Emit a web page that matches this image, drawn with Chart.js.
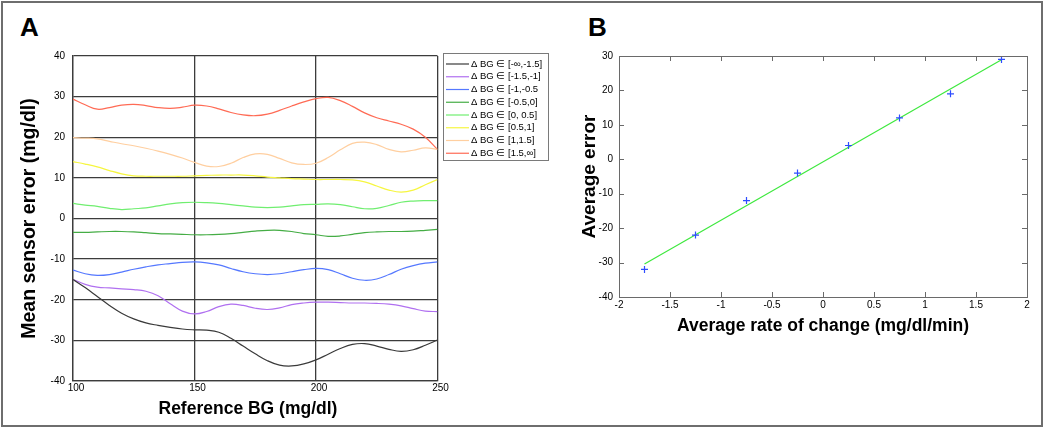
<!DOCTYPE html>
<html><head><meta charset="utf-8">
<script src="https://cdn.jsdelivr.net/npm/chart.js@4/dist/chart.umd.min.js"></script>
<style>
html,body{margin:0;padding:0;background:#fff;}
body{width:1050px;height:431px;position:relative;overflow:hidden;font-family:"Liberation Sans",Arial,sans-serif;}
#frame{position:absolute;left:1px;top:1px;width:1038px;height:422px;border:2px solid #6e6e6e;}
.panel{position:absolute;font-weight:bold;font-size:26px;line-height:26px;color:#000;}
#cA{position:absolute;left:0;top:0;}
#cB{position:absolute;left:560px;top:0;}
</style></head>
<body>
<div id="frame"></div>
<div class="panel" style="left:20px;top:14px;">A</div>
<div class="panel" style="left:588px;top:14px;">B</div>
<canvas id="cA" width="560" height="431"></canvas>
<canvas id="cB" width="490" height="431"></canvas>
<script>
// ---------- Panel A data ----------
const refBG = [100,105,110,115,120,125,130,135,140,145,150,155,160,165,170,175,180,185,190,195,200,205,210,215,220,225,230,235,240,245,250];
const seriesLabels = ['\u0394 BG \u2208 [-\u221e,-1.5]','\u0394 BG \u2208 [-1.5,-1]','\u0394 BG \u2208 [-1,-0.5','\u0394 BG \u2208 [-0.5,0]','\u0394 BG \u2208 [0, 0.5]','\u0394 BG \u2208 [0.5,1]','\u0394 BG \u2208 [1,1.5]','\u0394 BG \u2208 [1.5,\u221e]'];
const errNegInf = [-15.0,-17.0,-19.2,-21.4,-23.3,-24.7,-25.7,-26.3,-26.8,-27.2,-27.4,-27.5,-28.0,-29.5,-31.4,-33.3,-35.0,-36.1,-36.3,-35.8,-34.8,-33.4,-32.0,-31.0,-30.8,-31.4,-32.2,-32.7,-32.3,-31.2,-29.9];
const errNeg15 = [-15.0,-16.2,-16.9,-17.1,-17.3,-17.5,-17.9,-19.0,-21.0,-22.8,-23.5,-22.9,-21.7,-21.1,-21.4,-22.1,-22.4,-22.0,-21.2,-20.8,-20.6,-20.6,-20.7,-20.8,-20.8,-20.9,-21.1,-21.5,-22.2,-22.8,-22.9];
const errNeg1 = [-12.7,-13.6,-14.0,-13.8,-13.2,-12.5,-11.9,-11.4,-11.1,-10.8,-10.7,-10.9,-11.4,-12.3,-13.1,-13.6,-13.8,-13.6,-13.1,-12.6,-12.3,-12.6,-13.6,-14.7,-15.2,-14.9,-13.8,-12.5,-11.6,-11.0,-10.7];
const errNeg05 = [-3.4,-3.4,-3.3,-3.2,-3.2,-3.3,-3.5,-3.7,-3.8,-3.9,-4.0,-4.0,-3.9,-3.7,-3.4,-3.1,-2.9,-2.9,-3.2,-3.7,-4.0,-4.4,-4.3,-3.9,-3.5,-3.3,-3.2,-3.2,-3.1,-2.9,-2.7];
const errPos0 = [3.7,3.3,3.0,2.5,2.2,2.4,2.6,3.1,3.6,3.9,4.0,3.9,3.7,3.4,3.1,2.8,2.7,2.8,3.1,3.4,3.5,3.6,3.4,2.9,2.4,2.5,3.2,4.0,4.3,4.4,4.4];
const errPos05 = [14.0,13.4,12.7,11.8,11.0,10.5,10.4,10.4,10.4,10.4,10.5,10.6,10.7,10.7,10.7,10.5,10.2,10.0,9.8,9.7,9.6,9.6,9.6,9.5,9.0,8.0,7.0,6.5,7.0,8.3,9.6];
const errPos1 = [19.9,19.8,19.6,19.0,18.4,17.9,17.3,16.6,15.8,14.9,13.8,12.9,12.8,13.6,15.0,15.9,15.8,14.8,13.7,13.3,13.6,15.0,16.9,18.5,18.8,18.2,17.0,16.4,16.8,17.4,17.0];
const errPos15 = [29.4,28.0,26.9,27.3,27.9,28.1,27.8,27.3,27.1,27.4,27.9,27.7,27.0,26.1,25.5,25.3,25.7,26.6,27.7,28.7,29.5,29.8,29.0,27.6,26.0,24.8,24.0,23.2,22.0,20.0,17.0];
const seriesColors = ['#3a3a3a','#b070f0','#5578ff','#45ad45','#70ee70','#f6f640','#ffcfa0','#ff6b55'];
const xTicksA = [100,150,200,250];
const yTicksA = [-40,-30,-20,-10,0,10,20,30,40];

// ---------- Panel B data ----------
const rateOfChange = [-1.75,-1.25,-0.75,-0.25,0.25,0.75,1.25,1.75];
const averageError = [-32,-22,-12,-4,4,12,19,29];
const fitRate = [-1.75,1.75];
const fitError = [-30.4,28.9];
const xTicksB = [-2,-1.5,-1,-0.5,0,0.5,1,1.5,2];
const yTicksB = [-40,-30,-20,-10,0,10,20,30];

const FONT = '"Liberation Sans", Arial, sans-serif';
Chart.defaults.font.family = FONT;
Chart.defaults.color = '#000';
const plainLabel = v => String(v);

const allSeries = [errNegInf,errNeg15,errNeg1,errNeg05,errPos0,errPos05,errPos1,errPos15];

const boxLegend = {
  id:'boxLegend',
  afterDraw(chart){
    const ctx = chart.ctx;
    ctx.save();
    ctx.strokeStyle = '#7a7a7a'; ctx.lineWidth = 1;
    ctx.strokeRect(443.5, 53.5, 105, 107);
    ctx.font = '9.5px ' + FONT;
    ctx.textBaseline = 'middle'; ctx.textAlign = 'left'; ctx.fillStyle = '#000';
    chart.data.datasets.forEach((ds,i)=>{
      const y = 64 + i*12.75;
      ctx.strokeStyle = ds.borderColor; ctx.lineWidth = 1.2;
      ctx.beginPath(); ctx.moveTo(446, y); ctx.lineTo(469, y); ctx.stroke();
      ctx.fillText(ds.label, 471, y);
    });
    ctx.restore();
  }
};

new Chart(document.getElementById('cA'), {
  type:'line',
  data:{
    datasets: allSeries.map((vals,i)=>({
      label: seriesLabels[i],
      data: refBG.map((x,j)=>({x:x, y:vals[j]})),
      borderColor: seriesColors[i], backgroundColor: seriesColors[i],
      borderWidth: 1.2, pointRadius: 0, tension: 0.4, fill:false
    }))
  },
  options:{
    responsive:false, animation:false, devicePixelRatio:1,
    layout:{padding:{left:0, top:56, right:122.5, bottom:0}},
    plugins:{legend:{display:false}, tooltip:{enabled:false}},
    scales:{
      x:{type:'linear', min:100, max:250,
        afterBuildTicks:s=>{ s.ticks = xTicksA.map(v=>({value:v})); },
        afterFit:s=>{ s.height = 50; },
        grid:{color:'#3c3c3c', lineWidth:1.3, drawTicks:false},
        border:{color:'#3c3c3c', width:1.3},
        ticks:{font:{size:10}, color:'#000', padding:1, labelOffset:3, maxRotation:0, autoSkip:false, callback:plainLabel},
        title:{display:true, text:'Reference BG (mg/dl)   ', font:{size:17.5, weight:'bold'}, color:'#000', padding:{top:0,bottom:11}}
      },
      y:{type:'linear', min:-40, max:40,
        afterBuildTicks:s=>{ s.ticks = yTicksA.map(v=>({value:v})); },
        afterFit:s=>{ s.width = 73; },
        grid:{color:'#3c3c3c', lineWidth:1.3, drawTicks:false},
        border:{color:'#3c3c3c', width:1.3},
        ticks:{font:{size:10}, color:'#000', padding:8, autoSkip:false, callback:plainLabel},
        title:{display:true, text:'Mean sensor error (mg/dl)', font:{size:19.5, weight:'bold'}, color:'#000', padding:{top:18,bottom:0}}
      }
    }
  },
  plugins:[boxLegend]
});

const boxTicks = {
  id:'boxTicks',
  afterDraw(chart){
    const {ctx, chartArea:a, scales:{x,y}} = chart;
    ctx.save();
    ctx.strokeStyle = '#6a6a6a'; ctx.lineWidth = 1;
    ctx.strokeRect(Math.round(a.left)+0.5, Math.round(a.top)+0.5, Math.round(a.right-a.left), Math.round(a.bottom-a.top));
    ctx.beginPath();
    x.ticks.forEach(t=>{ const p = Math.round(x.getPixelForValue(t.value))+0.5;
      ctx.moveTo(p, a.top); ctx.lineTo(p, a.top+5); ctx.moveTo(p, a.bottom); ctx.lineTo(p, a.bottom-5); });
    y.ticks.forEach(t=>{ const p = Math.round(y.getPixelForValue(t.value))+0.5;
      ctx.moveTo(a.left, p); ctx.lineTo(a.left+5, p); ctx.moveTo(a.right, p); ctx.lineTo(a.right-5, p); });
    ctx.stroke();
    ctx.restore();
  }
};

new Chart(document.getElementById('cB'), {
  type:'scatter',
  data:{
    datasets:[
      {label:'Average error', data: rateOfChange.map((x,i)=>({x:x, y:averageError[i]})),
       pointStyle:'cross', pointRadius:3.5, borderColor:'#2f4dff', backgroundColor:'#2f4dff', borderWidth:1.2, showLine:false},
      {label:'Linear fit', type:'line', data: fitRate.map((x,i)=>({x:x, y:fitError[i]})),
       borderColor:'#3ee83e', borderWidth:1.2, pointRadius:0, fill:false, tension:0}
    ]
  },
  options:{
    responsive:false, animation:false, devicePixelRatio:1,
    layout:{padding:{left:0, top:56, right:23, bottom:0}},
    plugins:{legend:{display:false}, tooltip:{enabled:false}},
    scales:{
      x:{type:'linear', min:-2, max:2,
        afterBuildTicks:s=>{ s.ticks = xTicksB.map(v=>({value:v})); },
        afterFit:s=>{ s.height = 134; },
        grid:{display:false, drawTicks:false}, border:{display:false},
        ticks:{font:{size:10}, color:'#000', padding:2, maxRotation:0, autoSkip:false, callback:plainLabel},
        title:{display:true, text:'Average rate of change (mg/dl/min)', font:{size:17.5, weight:'bold'}, color:'#000', padding:{top:0,bottom:94}}
      },
      y:{type:'linear', min:-40, max:30,
        afterBuildTicks:s=>{ s.ticks = yTicksB.map(v=>({value:v})); },
        afterFit:s=>{ s.width = 59; },
        grid:{display:false, drawTicks:false}, border:{display:false},
        ticks:{font:{size:10}, color:'#000', padding:6, autoSkip:false, callback:plainLabel},
        title:{display:true, text:'Average error', font:{size:19, weight:'bold'}, color:'#000', padding:{top:18,bottom:0}}
      }
    }
  },
  plugins:[boxTicks]
});
</script>
</body></html>
